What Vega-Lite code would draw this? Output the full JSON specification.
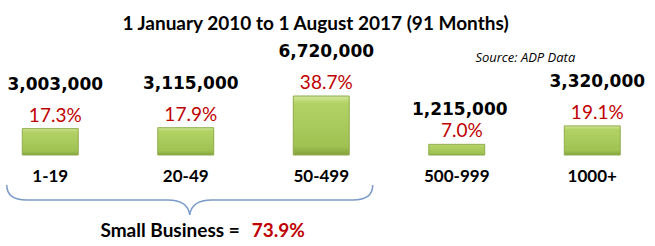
{
  "$schema": "https://vega.github.io/schema/vega-lite/v6.json",
  "width": 655,
  "height": 246,
  "autosize": "none",
  "padding": 0,
  "background": "white",
  "config": {"view": {"stroke": null}},
  "title": {
    "text": "1 January 2010 to 1 August 2017 (91 Months)",
    "font": "Lato",
    "fontSize": 19,
    "fontWeight": "bold",
    "color": "#000000",
    "anchor": "middle",
    "frame": "group",
    "dx": -12,
    "dy": 38
  },
  "data": {
    "values": [
      {"cat": "1-19", "pct": 0.173, "count": 3003000},
      {"cat": "20-49", "pct": 0.179, "count": 3115000},
      {"cat": "50-499", "pct": 0.387, "count": 6720000},
      {"cat": "500-999", "pct": 0.07, "count": 1215000},
      {"cat": "1000+", "pct": 0.191, "count": 3320000}
    ]
  },
  "encoding": {
    "x": {
      "field": "cat",
      "type": "nominal",
      "sort": null,
      "scale": {"range": [-17.5, 660], "paddingInner": 0.587, "paddingOuter": 0.2935},
      "axis": null
    }
  },
  "layer": [
    {
      "mark": {
        "type": "bar",
        "fill": {
          "gradient": "linear",
          "x1": 0, "y1": 0, "x2": 0, "y2": 1,
          "stops": [
            {"offset": 0, "color": "#d2e79c"},
            {"offset": 0.12, "color": "#b3d265"},
            {"offset": 0.85, "color": "#9fc253"},
            {"offset": 1, "color": "#84a23c"}
          ]
        },
        "stroke": "#8fac4a",
        "strokeWidth": 1
      },
      "encoding": {
        "y": {
          "field": "pct",
          "type": "quantitative",
          "scale": {"domain": [0, 0.387], "range": [155, 96], "nice": false},
          "axis": null
        }
      }
    },
    {
      "mark": {"type": "text", "font": "Lato", "fontSize": 19, "color": "#C00000", "baseline": "alphabetic", "dx": 5, "dy": -7},
      "encoding": {
        "y": {"field": "pct", "type": "quantitative"},
        "text": {"field": "pct", "type": "quantitative", "format": ".1%"}
      }
    },
    {
      "transform": [{"filter": "datum.cat != '500-999'"}],
      "mark": {"type": "text", "font": "DejaVu Sans", "fontSize": 17, "fontWeight": "bold", "color": "#000000", "baseline": "alphabetic", "dx": 5, "dy": -39},
      "encoding": {
        "y": {"field": "pct", "type": "quantitative"},
        "text": {"field": "count", "type": "quantitative", "format": ",d"}
      }
    },
    {
      "transform": [{"filter": "datum.cat == '500-999'"}],
      "mark": {"type": "text", "font": "DejaVu Sans", "fontSize": 17, "fontWeight": "bold", "color": "#000000", "baseline": "alphabetic", "dx": 3, "dy": -29},
      "encoding": {
        "y": {"field": "pct", "type": "quantitative"},
        "text": {"field": "count", "type": "quantitative", "format": ",d"}
      }
    },
    {
      "mark": {"type": "text", "font": "Lato", "fontSize": 17, "fontWeight": "bold", "color": "#000000", "baseline": "alphabetic", "dy": 27},
      "encoding": {
        "y": {"datum": 0, "type": "quantitative"},
        "text": {"field": "cat", "type": "nominal"}
      }
    },
    {
      "data": {"values": [{"label": "brace"}]},
      "mark": {
        "type": "point",
        "shape": "M -1 -0.082 Q -1 0 -0.891 0 L -0.12 0 Q -0.01 0 0 0.082 Q 0.01 0 0.12 0 L 0.891 0 Q 1 0 1 -0.082",
        "size": 133956,
        "filled": false,
        "stroke": "#7b9bc8",
        "strokeWidth": 1.5,
        "opacity": 1,
        "xOffset": 4,
        "yOffset": 45
      },
      "encoding": {
        "x": {"datum": "20-49"},
        "y": {"datum": 0, "type": "quantitative"}
      }
    },
    {
      "data": {"values": [{"label": "Small Business  ="}]},
      "mark": {"type": "text", "font": "Lato", "fontSize": 19, "fontWeight": "bold", "color": "#000000", "align": "right", "baseline": "alphabetic", "dx": 54, "dy": 82},
      "encoding": {
        "x": {"datum": "20-49"},
        "y": {"datum": 0, "type": "quantitative"},
        "text": {"field": "label", "type": "nominal"}
      }
    },
    {
      "data": {"values": [{"label": "73.9%"}]},
      "mark": {"type": "text", "font": "Lato", "fontSize": 19, "fontWeight": "bold", "color": "#C00000", "align": "left", "baseline": "alphabetic", "dx": 66, "dy": 82},
      "encoding": {
        "x": {"datum": "20-49"},
        "y": {"datum": 0, "type": "quantitative"},
        "text": {"field": "label", "type": "nominal"}
      }
    },
    {
      "data": {"values": [{"label": "Source: ADP Data"}]},
      "mark": {"type": "text", "font": "Open Sans", "fontSize": 13, "fontStyle": "italic", "color": "#000000", "align": "right", "baseline": "alphabetic", "dx": -17, "dy": -93},
      "encoding": {
        "x": {"datum": "1000+"},
        "y": {"datum": 0, "type": "quantitative"},
        "text": {"field": "label", "type": "nominal"}
      }
    }
  ]
}
